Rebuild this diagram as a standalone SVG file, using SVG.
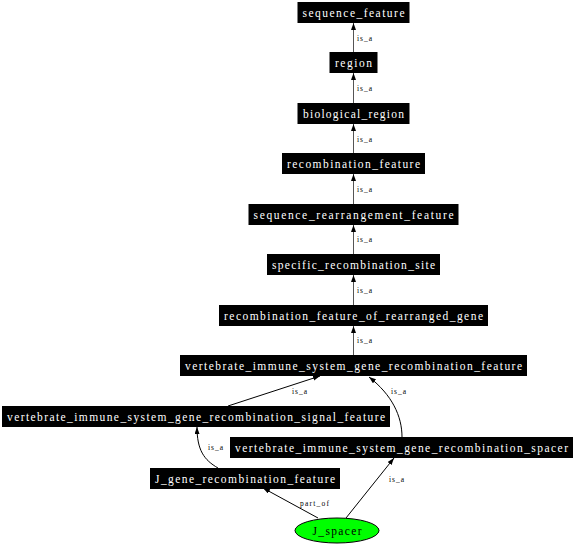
<svg xmlns="http://www.w3.org/2000/svg" width="576" height="545" viewBox="0 0 576 545">
<style>
.box{fill:#000}
.nl{fill:#fff;font-family:"Liberation Serif",serif;font-size:11.5px;text-anchor:middle}
.el{fill:#000;font-family:"Liberation Serif",serif;font-size:7.5px}
.e{fill:none;stroke:#000;stroke-width:1;marker-end:url(#ah)}
.ev{fill:none;stroke:#555;stroke-width:1;marker-end:url(#ah)}
</style>
<defs>
<marker id="ah" markerUnits="userSpaceOnUse" markerWidth="8" markerHeight="6" refX="7" refY="2.5" orient="auto"><path d="M0,0 L7,2.5 L0,5 z" fill="#000"/></marker>
</defs>
<g id="connectors">
<path class="ev" d="M353.5,52 V23"/>
<path class="ev" d="M353.5,103 V73"/>
<path class="ev" d="M353.5,153 V124"/>
<path class="ev" d="M353.5,204 V174"/>
<path class="ev" d="M353.5,254 V225"/>
<path class="ev" d="M353.5,305 V275"/>
<path class="ev" d="M353.5,355 V326"/>
<path class="e" d="M228,406 L320,376"/>
<path class="e" d="M402,437 C402,416 392,395 369,377"/>
<path class="e" d="M218,468 C204,460 197,450 197,427"/>
<path class="e" d="M318,518 L263,488"/>
<path class="e" d="M346,518 L394,458"/>
<text class="el" x="357" y="40.5" textLength="15">is_a</text>
<text class="el" x="357" y="91" textLength="15">is_a</text>
<text class="el" x="357" y="141.5" textLength="15">is_a</text>
<text class="el" x="357" y="191.5" textLength="15">is_a</text>
<text class="el" x="357" y="242" textLength="15">is_a</text>
<text class="el" x="357" y="292.5" textLength="15">is_a</text>
<text class="el" x="357" y="343" textLength="15">is_a</text>
<text class="el" x="292" y="393.5" textLength="15">is_a</text>
<text class="el" x="391" y="393.5" textLength="15">is_a</text>
<text class="el" x="208" y="450" textLength="15">is_a</text>
<text class="el" x="300" y="505.5" textLength="29">part_of</text>
<text class="el" x="389" y="481.5" textLength="15">is_a</text>
</g>
<g id="sequence_feature"><rect class="box" x="297.5" y="2" width="112" height="21"/><text class="nl" x="353.5" y="16.5" textLength="102">sequence_feature</text></g>
<g id="region"><rect class="box" x="329.5" y="52" width="48" height="21"/><text class="nl" x="353.5" y="66.5" textLength="37">region</text></g>
<g id="biological_region"><rect class="box" x="297.5" y="103" width="112" height="21"/><text class="nl" x="353.5" y="117.5" textLength="101">biological_region</text></g>
<g id="recombination_feature"><rect class="box" x="282" y="153" width="143" height="21"/><text class="nl" x="353.5" y="167.5" textLength="133">recombination_feature</text></g>
<g id="sequence_rearrangement_feature"><rect class="box" x="248.5" y="204" width="210" height="21"/><text class="nl" x="353.5" y="218.5" textLength="200">sequence_rearrangement_feature</text></g>
<g id="specific_recombination_site"><rect class="box" x="267" y="254" width="173" height="21"/><text class="nl" x="353.5" y="268.5" textLength="163">specific_recombination_site</text></g>
<g id="recombination_feature_of_rearranged_gene"><rect class="box" x="219" y="305" width="269" height="21"/><text class="nl" x="353.5" y="319.5" textLength="259">recombination_feature_of_rearranged_gene</text></g>
<g id="vertebrate_immune_system_gene_recombination_feature"><rect class="box" x="180" y="355" width="347" height="21"/><text class="nl" x="353.5" y="369.5" textLength="337">vertebrate_immune_system_gene_recombination_feature</text></g>
<g id="vertebrate_immune_system_gene_recombination_signal_feature"><rect class="box" x="2" y="406" width="388" height="21"/><text class="nl" x="196" y="420.5" textLength="378">vertebrate_immune_system_gene_recombination_signal_feature</text></g>
<g id="vertebrate_immune_system_gene_recombination_spacer"><rect class="box" x="230" y="437" width="343" height="21"/><text class="nl" x="401.5" y="451.5" textLength="333">vertebrate_immune_system_gene_recombination_spacer</text></g>
<g id="J_gene_recombination_feature"><rect class="box" x="150" y="468" width="190" height="21"/><text class="nl" x="245" y="482.5" textLength="180">J_gene_recombination_feature</text></g>
<g id="J_spacer"><ellipse cx="337" cy="530.5" rx="42" ry="12.5" fill="#00ff00" stroke="#000" stroke-width="1"/><text x="337" y="534.5" textLength="49" style="fill:#000;font-family:'Liberation Serif',serif;font-size:11.5px;text-anchor:middle">J_spacer</text></g>
</svg>
